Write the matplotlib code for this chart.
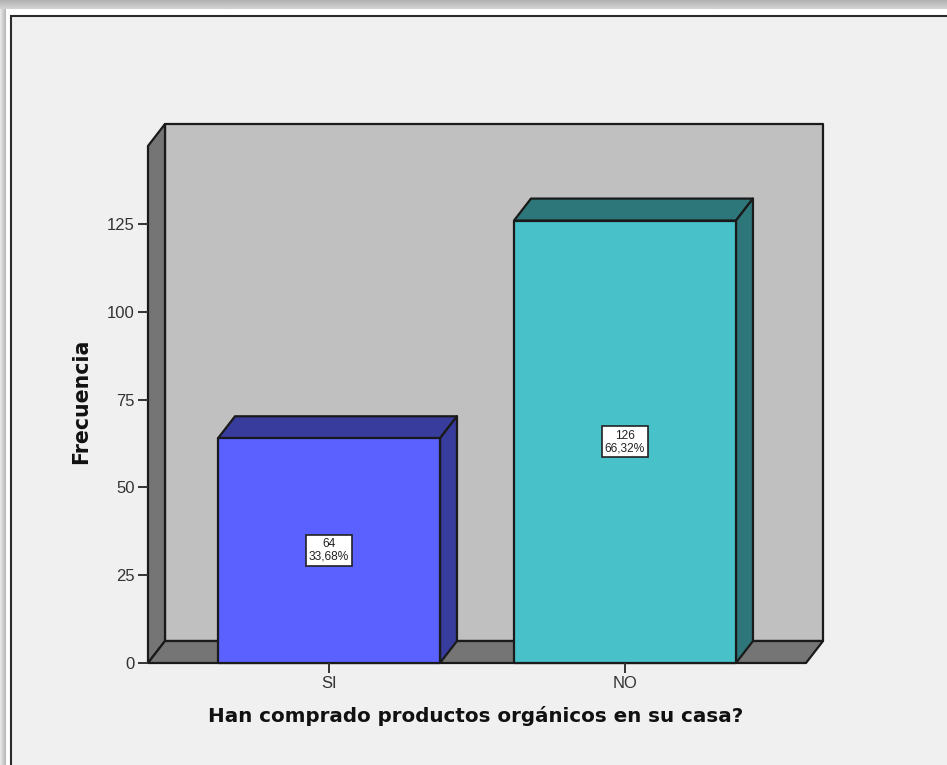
import numpy as np
import matplotlib
matplotlib.use('Agg')
from matplotlib import pyplot as plt
from matplotlib.patches import Polygon, Rectangle

categories = ['SI', 'NO']
counts = [64, 126]
percents = ['33,68%', '66,32%']
front_colors = ['#5a61ff', '#48c2c8']
top_colors = ['#383c9c', '#2d7679']
y_ticks = [0, 25, 50, 75, 100, 125]

W, H = 947, 765
plt.rcParams['font.family'] = ['Liberation Sans', 'DejaVu Sans']

fig = plt.figure(figsize=(W / 100, H / 100), dpi=100, facecolor='white')

# window frame and its shadow, in pixels
bg = fig.add_axes([0, 0, 1, 1])
bg.axis('off')
shade = np.linspace(0.70, 0.82, 9)[:, None]
bg.imshow(shade, extent=(0, W, 9, 0), cmap='gray', vmin=0, vmax=1, aspect='auto')
side = np.linspace(0.90, 0.72, 6)[None, :]
bg.imshow(side, extent=(0, 6, H, 9), cmap='gray', vmin=0, vmax=1, aspect='auto')
bg.set_xlim(0, W)
bg.set_ylim(H, 0)
bg.add_patch(Rectangle((11, 16), W, H, fc='#f0f0f0', ec='#2b2b2b', lw=1.5))

# chart area: left/bottom is the front plane, right/top the back wall
left, right, bottom, top = 148, 823, 663, 124
ax = fig.add_axes([left / W, 1 - bottom / H, (right - left) / W, (bottom - top) / H])
ax.patch.set_alpha(0)
ax.set_xlim(-0.6115, 1.669)
ax.set_ylim(0, 153.5)
for s in ax.spines.values():
    s.set_visible(False)

dx, dy = 0.0574, 6.26
x0, x1 = ax.get_xlim()
y1 = ax.get_ylim()[1]
edge = dict(ec='#1a1a1a', lw=1.6, joinstyle='round', clip_on=False)

# back wall, left wall, floor
ax.add_patch(Polygon([(x0 + dx, dy), (x1, dy), (x1, y1), (x0 + dx, y1)], fc='#c0c0c0', **edge))
ax.add_patch(Polygon([(x0, 0), (x0 + dx, dy), (x0 + dx, y1), (x0, y1 - dy)], fc='#757575', **edge))
ax.add_patch(Polygon([(x0, 0), (x1 - dx, 0), (x1, dy), (x0 + dx, dy)], fc='#757575', **edge))

width = 0.75
xs = np.arange(len(categories))
for x, n, pct, fc, tc in zip(xs, counts, percents, front_colors, top_colors):
    a, b = x - width / 2, x + width / 2
    ax.add_patch(Polygon([(a, n), (b, n), (b + dx, n + dy), (a + dx, n + dy)], fc=tc, **edge))
    ax.add_patch(Polygon([(b, 0), (b + dx, dy), (b + dx, n + dy), (b, n)], fc=tc, **edge))
    ax.add_patch(Rectangle((a, 0), width, n, fc=fc, **edge))
    ax.text(x, n / 2, f'{n}\n{pct}', ha='center', va='center', fontsize=8.6, color='#222222',
            linespacing=1.05,
            bbox=dict(boxstyle='square,pad=0.26', fc='white', ec='#222222', lw=1.2))

ax.set_xticks(xs, categories)
ax.set_yticks(y_ticks)
ax.tick_params(axis='both', length=7.5, width=1.4, color='#333333', labelcolor='#333333',
               labelsize=12, pad=2)
ax.set_ylabel('Frecuencia', fontsize=14.8, fontweight='bold', color='#111111',
              family='DejaVu Sans')
ax.yaxis.set_label_coords((91 - left) / (right - left), (bottom - 401) / (bottom - top))
ax.text((476 - left) / (right - left), (bottom - 716) / (bottom - top),
        'Han comprado productos orgánicos en su casa?', transform=ax.transAxes,
        ha='center', va='center', fontsize=14.3, fontweight='bold', color='#111111',
        family='DejaVu Sans')

fig.savefig('out.png', dpi=100, facecolor=fig.get_facecolor())
